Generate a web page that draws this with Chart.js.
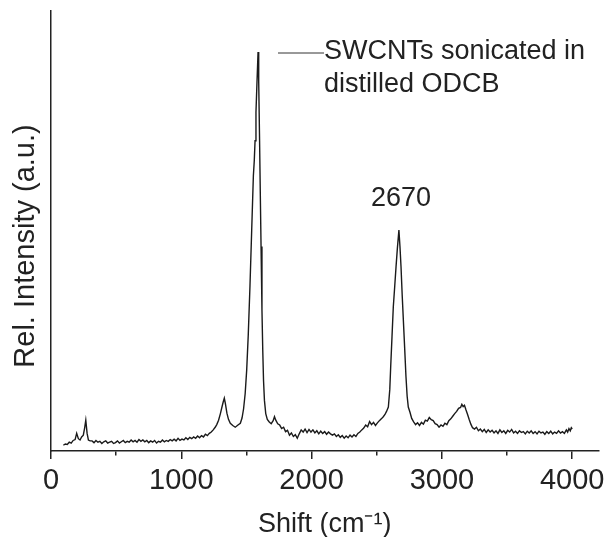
<!DOCTYPE html>
<html>
<head>
<meta charset="utf-8">
<title>Raman spectrum</title>
<script src="https://cdn.jsdelivr.net/npm/chart.js@4.4.1/dist/chart.umd.min.js"></script>
<style>
    html, body { margin: 0; padding: 0; background: #fff; }
    #wrap { width: 610px; height: 537px; }
</style>
</head>
<body>
<div id="wrap"><canvas id="ramanChart"></canvas></div>
<script>
// Raman shift (cm-1) and relative intensity of the sonicated SWCNT sample
const shiftCm = [
    95, 110, 125, 140, 155, 170, 185, 197, 210, 223,
    235, 248, 258, 267, 277, 287, 300, 315, 330, 345,
    360, 375, 390, 405, 420, 435, 450, 465, 480, 495,
    510, 525, 540, 555, 570, 585, 600, 615, 630, 645,
    660, 675, 690, 705, 720, 735, 750, 765, 780, 795,
    810, 825, 840, 855, 870, 885, 900, 915, 930, 945,
    960, 975, 990, 1005, 1020, 1035, 1050, 1065, 1080, 1095,
    1110, 1125, 1140, 1155, 1170, 1185, 1200, 1215, 1230, 1245,
    1260, 1272, 1286, 1300, 1312, 1322, 1330, 1338, 1350, 1362,
    1376, 1395, 1414, 1435, 1453, 1466, 1478, 1490, 1502, 1514,
    1527, 1540, 1553, 1560, 1566, 1573, 1581, 1589, 1594, 1600,
    1606, 1612, 1619, 1625, 1631, 1638, 1648, 1660, 1675, 1690,
    1705, 1715, 1725, 1740, 1755, 1770, 1785, 1800, 1815, 1830,
    1845, 1860, 1875, 1890, 1905, 1920, 1935, 1950, 1965, 1980,
    1995, 2010, 2025, 2040, 2055, 2070, 2085, 2100, 2115, 2130,
    2145, 2160, 2175, 2190, 2205, 2220, 2235, 2250, 2265, 2280,
    2295, 2310, 2325, 2340, 2355, 2370, 2385, 2400, 2415, 2430,
    2445, 2460, 2475, 2490, 2505, 2520, 2535, 2550, 2563, 2575,
    2589, 2600, 2607, 2617, 2627, 2638, 2648, 2658, 2670, 2678,
    2686, 2695, 2704, 2714, 2724, 2733, 2742, 2755, 2768, 2783,
    2798, 2813, 2828, 2843, 2858, 2873, 2888, 2903, 2918, 2933,
    2948, 2963, 2978, 2993, 3008, 3023, 3038, 3053, 3068, 3083,
    3098, 3113, 3128, 3143, 3153, 3163, 3173, 3185, 3197, 3210,
    3222, 3235, 3250, 3265, 3280, 3295, 3310, 3325, 3340, 3355,
    3370, 3385, 3400, 3415, 3430, 3445, 3460, 3475, 3490, 3505,
    3520, 3535, 3550, 3565, 3580, 3595, 3610, 3625, 3640, 3655,
    3670, 3685, 3700, 3715, 3730, 3745, 3760, 3775, 3790, 3805,
    3820, 3835, 3850, 3865, 3880, 3895, 3910, 3925, 3940, 3955,
    3965, 3975, 3985, 3993, 4000
];
const intensity = [
    1.3, 1.6, 1.5, 2.0, 1.8, 2.4, 2.6, 4.0, 2.8, 2.5,
    3.2, 3.6, 5.2, 7.0, 4.0, 2.5, 2.3, 2.3, 1.9, 2.4,
    2.0, 2.2, 1.7, 2.1, 2.3, 1.8, 2.0, 2.2, 1.7, 1.9,
    2.3, 1.8, 2.1, 2.4, 1.9, 2.2, 2.0, 2.5, 2.1, 2.4,
    2.0, 2.6, 2.2, 2.5, 2.1, 2.4, 1.9, 2.3, 2.0, 2.4,
    1.8, 2.2, 2.0, 2.5, 2.1, 2.4, 2.2, 2.6, 2.3, 2.7,
    2.3, 2.9, 2.4, 2.7, 2.5, 3.0, 2.6, 3.1, 2.8, 3.2,
    2.9, 3.4, 3.0, 3.5, 3.2, 3.8, 3.5, 4.0, 4.3, 4.8,
    5.4, 6.0, 7.0, 8.5, 10.0, 11.2, 12.0, 10.8, 8.6, 7.2,
    6.3, 5.8, 5.4, 5.9, 6.3, 7.5, 9.6, 13.0, 18.5, 26.5,
    37.5, 50.0, 62.5, 66.0, 70.5, 77.0, 84.0, 90.7, 84.0, 72.0,
    59.0, 46.5, 32.0, 23.0, 16.0, 11.5, 8.5, 7.2, 6.6, 6.2,
    6.9, 7.8, 7.0, 6.2, 5.9, 5.1, 5.4, 4.4, 4.7, 3.6,
    4.1, 3.3, 3.7, 2.9, 3.9, 4.8, 4.3, 5.0, 4.2, 4.9,
    4.3, 4.8, 4.1, 4.6, 3.9, 4.5, 4.0, 4.4, 3.8, 4.3,
    3.9, 3.6, 3.9, 3.3, 3.7, 3.1, 3.5, 2.9, 3.4, 3.0,
    3.6, 3.2, 3.7, 3.3, 4.0, 4.3, 4.8, 5.2, 5.9, 5.5,
    6.7, 6.0, 6.5, 5.8, 6.4, 6.9, 7.3, 7.8, 8.3, 9.0,
    10.0, 14.0, 19.2, 26.0, 32.8, 37.5, 41.9, 46.0, 50.2, 46.5,
    42.0, 35.5, 29.8, 23.5, 17.0, 12.5, 10.0, 8.8, 7.4, 6.6,
    6.0, 6.4, 5.8, 6.5, 6.1, 7.0, 6.8, 7.6, 7.1, 6.9,
    6.2, 6.0, 5.4, 5.9, 5.6, 6.3, 6.0, 6.9, 7.3, 7.9,
    8.5, 9.0, 9.7, 9.9, 10.6, 10.1, 10.4, 9.3, 8.3, 7.1,
    6.1, 5.3, 5.0, 5.4, 4.6, 5.0, 4.4, 4.9, 4.2, 4.8,
    4.3, 4.7, 4.1, 4.6, 4.0, 4.8, 4.2, 4.6, 4.0, 4.7,
    4.3, 4.9, 4.1, 4.5, 4.0, 4.6, 4.2, 4.4, 3.9, 4.5,
    4.1, 4.6, 4.0, 4.4, 3.9, 4.5, 4.1, 4.3, 3.8, 4.4,
    4.0, 4.5, 3.9, 4.3, 4.0, 4.6, 4.1, 4.4, 4.0, 4.8,
    4.3, 5.1, 4.6, 5.3, 5.0
];

const xTickValues = [0, 500, 1000, 1500, 2000, 2500, 3000, 3500, 4000];
const xTickLabels = ['0', '1000', '2000', '3000', '4000'];
const legendLines = ['SWCNTs sonicated in', 'distilled ODCB'];
const yTitle = 'Rel. Intensity (a.u.)';
const xTitle = 'Shift (cm\u207B\u00B9)';
const peakLabel = 2670;

const inkColor = '#222';
const fontFamily = '"Liberation Sans", Arial, sans-serif';

// legend: short line followed by two lines of text
const legendPlugin = {
    id: 'spectrumLegend',
    afterDraw(chart) {
        const ctx = chart.ctx;
        const area = chart.chartArea;
        const x0 = area.left + 227;
        const y0 = area.top + 42;
        ctx.save();
        ctx.strokeStyle = '#333';
        ctx.lineWidth = 1;
        ctx.beginPath();
        ctx.moveTo(x0, y0);
        ctx.lineTo(x0 + 46, y0);
        ctx.stroke();
        ctx.fillStyle = inkColor;
        ctx.font = '27px ' + fontFamily;
        ctx.textBaseline = 'middle';
        ctx.textAlign = 'left';
        legendLines.forEach((line, i) => {
            ctx.fillText(line, x0 + 46, y0 - 1 + i * 33);
        });
        ctx.restore();
    }
};

// peak position written above the 2D band, plus the rotated y title
const labelPlugin = {
    id: 'spectrumLabels',
    afterDraw(chart) {
        const ctx = chart.ctx;
        const area = chart.chartArea;
        const idx = shiftCm.indexOf(peakLabel);
        const px = chart.scales.x.getPixelForValue(peakLabel);
        const py = chart.scales.y.getPixelForValue(intensity[idx]);
        ctx.save();
        ctx.fillStyle = inkColor;
        ctx.font = '27px ' + fontFamily;
        ctx.textAlign = 'center';
        ctx.textBaseline = 'middle';
        ctx.fillText(String(peakLabel), px + 2, py - 32);

        ctx.font = '29px ' + fontFamily;
        ctx.translate(area.left - 25, (area.top + area.bottom) / 2 + 15);
        ctx.rotate(-Math.PI / 2);
        ctx.fillText(yTitle, 0, 0);
        ctx.restore();
    }
};

const points = shiftCm.map((s, i) => ({ x: s, y: intensity[i] }));

new Chart(document.getElementById('ramanChart'), {
    type: 'line',
    data: {
        datasets: [{
            data: points,
            borderColor: '#1a1a1a',
            borderWidth: 1.4,
            pointRadius: 0,
            tension: 0,
            fill: false
        }]
    },
    options: {
        responsive: true,
        maintainAspectRatio: false,
        animation: false,
        events: [],
        layout: { padding: { top: 11, right: 11, left: 0, bottom: 0 } },
        plugins: {
            legend: { display: false },
            tooltip: { enabled: false }
        },
        scales: {
            x: {
                type: 'linear',
                min: 0,
                max: 4200,
                afterFit(scale) { scale.height = 86; },
                afterBuildTicks(scale) {
                    scale.ticks = xTickValues.map(v => ({ value: v }));
                },
                border: { display: true, color: inkColor, width: 1.5 },
                grid: {
                    display: true,
                    drawOnChartArea: false,
                    drawTicks: true,
                    tickLength: 8,
                    color: inkColor,
                    lineWidth: 1.5,
                    // half-length marks between the labelled ticks
                    tickBorderDash: (ctx) => (ctx.tick && ctx.tick.value % 1000 === 0) ? [] : [4, 20]
                },
                ticks: {
                    maxRotation: 0,
                    autoSkip: false,
                    padding: 5,
                    color: inkColor,
                    font: { family: fontFamily, size: 29 },
                    callback: (value) => {
                        const label = String(value);
                        return xTickLabels.includes(label) ? label : '';
                    }
                },
                title: {
                    display: true,
                    text: xTitle,
                    color: inkColor,
                    font: { family: fontFamily, size: 27 },
                    padding: { top: 0, bottom: -4 }
                }
            },
            y: {
                min: 0,
                max: 100,
                afterFit(scale) { scale.width = 51; },
                border: { display: true, color: inkColor, width: 1.5 },
                grid: { display: false },
                ticks: { display: false },
                title: { display: false }
            }
        }
    },
    plugins: [legendPlugin, labelPlugin]
});
</script>
</body>
</html>
